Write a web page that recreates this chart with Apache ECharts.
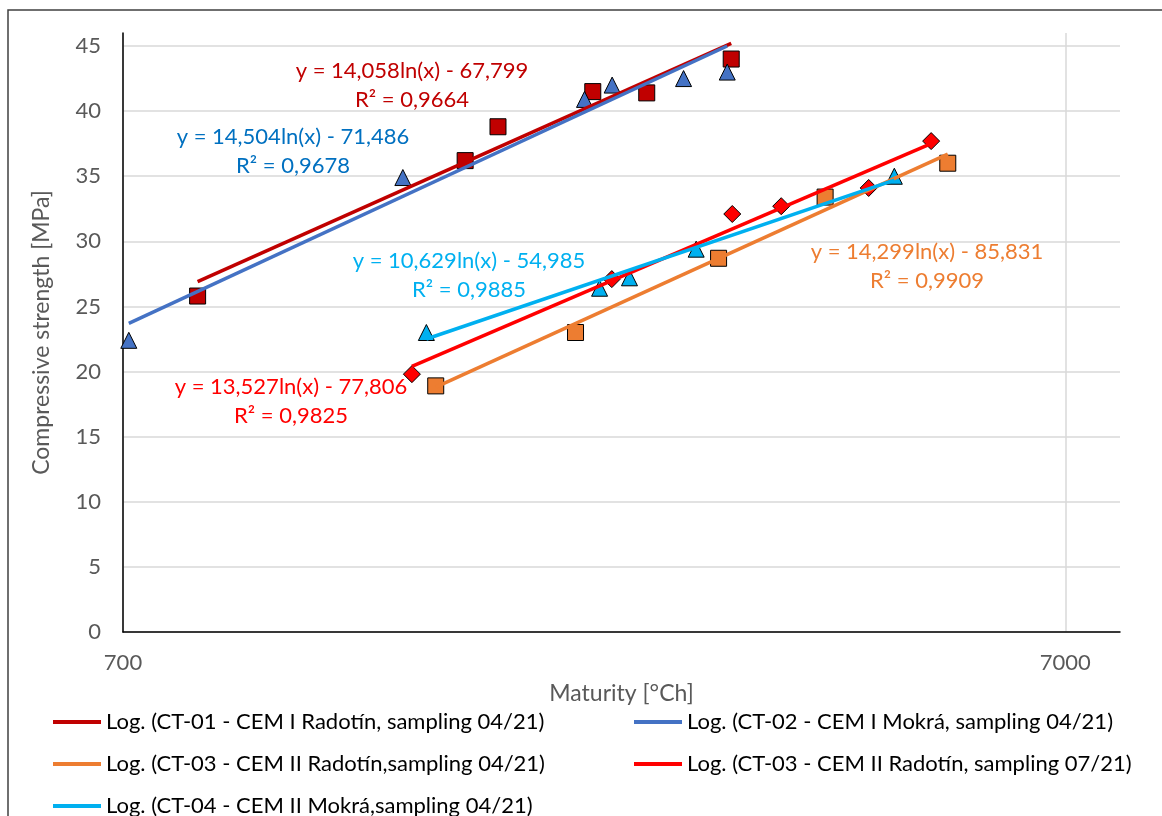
<!DOCTYPE html>
<html>
<head>
<meta charset="utf-8">
<script src="https://cdn.jsdelivr.net/npm/echarts@6/dist/echarts.min.js"></script>
<style>
  html, body { margin: 0; padding: 0; background: #fff; }
  #chart { width: 1162px; height: 816px; }
</style>
</head>
<body>
<div id="chart"></div>
<script>
// measured points (maturity °Ch, strength MPa)
const ct01X = [840, 1615, 1750, 2206, 2517, 3094];
const ct01Y = [25.8, 36.2, 38.8, 41.5, 41.4, 44.0];
const ct02X = [710, 1387, 2162, 2313, 2754, 3064];
const ct02Y = [22.4, 34.9, 40.9, 42.0, 42.5, 43.0];
const ct03aX = [1503, 2115, 3000, 3892, 5252];
const ct03aY = [18.9, 23.0, 28.7, 33.4, 36.0];
const ct03bX = [1418, 2311, 3102, 3496, 4329, 5043];
const ct03bY = [19.8, 27.1, 32.1, 32.7, 34.1, 37.7];
const ct04X = [1469, 2243, 2413, 2840, 4609];
const ct04Y = [23.0, 26.4, 27.2, 29.4, 35.0];

// log trendline end points
const ct01Trend = [[840, 26.9], [3094, 45.2]];
const ct02Trend = [[710, 23.7], [3064, 45.0]];
const ct03aTrend = [[1503, 18.8], [5252, 36.7]];
const ct03bTrend = [[1418, 20.4], [5043, 37.5]];
const ct04Trend = [[1469, 22.5], [4609, 34.7]];

// axis ticks
const xTicks = [700, 7000];
const yTicks = [0, 5, 10, 15, 20, 25, 30, 35, 40, 45];

// trendline names and equations
const trendNames = [
  'Log. (CT-01 - CEM I Radotín, sampling 04/21)',
  'Log. (CT-02 - CEM I Mokrá, sampling 04/21)',
  'Log. (CT-03 - CEM II Radotín,sampling 04/21)',
  'Log. (CT-03 - CEM II Radotín, sampling 07/21)',
  'Log. (CT-04 - CEM II Mokrá,sampling 04/21)'
];
const equations = [
  ['y = 14,058ln(x) - 67,799', 'R² = 0,9664'],
  ['y = 14,504ln(x) - 71,486', 'R² = 0,9678'],
  ['y = 14,299ln(x) - 85,831', 'R² = 0,9909'],
  ['y = 13,527ln(x) - 77,806', 'R² = 0,9825'],
  ['y = 10,629ln(x) - 54,985', 'R² = 0,9885']
];

const FONT = 'Lato, "Open Sans", sans-serif';
const colors = ['#C00000', '#4472C4', '#ED7D31', '#FF0000', '#00B0F0'];
const eqColors = ['#C00000', '#0070C0', '#ED7D31', '#FF0000', '#00B0F0'];
// centre of each equation block (first line), pixels
const eqPos = [[412, 71], [293, 137], [927, 252], [291, 387], [469, 261]];

function pairs(xs, ys) {
  return xs.map((x, i) => [x, ys[i]]);
}

const chart = echarts.init(document.getElementById('chart'));

function scatter(name, xs, ys, color, symbol, size) {
  return {
    name: name,
    type: 'scatter',
    data: pairs(xs, ys),
    symbol: symbol,
    symbolSize: size,
    z: 2,
    itemStyle: { color: color, borderColor: '#000', borderWidth: 1, opacity: 1 }
  };
}
function trend(name, pts, color) {
  return {
    name: name,
    type: 'line',
    data: pts,
    symbol: 'none',
    z: 3,
    color: color,
    lineStyle: { color: color, width: 3.5 }
  };
}

const eqGraphics = [];
equations.forEach((eq, i) => {
  eq.forEach((t, j) => {
    eqGraphics.push({
      type: 'text',
      x: eqPos[i][0],
      y: eqPos[i][1] + j * 29,
      z: 10,
      style: {
        text: t,
        fill: eqColors[i],
        font: '22px ' + FONT,
        align: 'center',
        verticalAlign: 'middle'
      }
    });
  });
});

const legendBase = {
  orient: 'vertical',
  top: 710,
  height: 110,
  padding: 0,
  itemWidth: 48,
  itemHeight: 4,
  itemGap: 18,
  icon: 'rect',
  textStyle: { fontSize: 22, color: '#000', lineHeight: 24, fontFamily: FONT }
};

const option = {
  animation: false,
  backgroundColor: '#fff',
  textStyle: { fontFamily: FONT },
  grid: { left: 123, right: 42, top: 33, bottom: 184 },
  graphic: [
    {
      type: 'rect',
      shape: { x: 8, y: 10, width: 1200, height: 900 },
      style: { fill: 'none', stroke: '#404040', lineWidth: 1.5 },
      z: 0
    }
  ].concat(eqGraphics),
  legend: [
    Object.assign({}, legendBase, {
      data: [trendNames[0], trendNames[2], trendNames[4]],
      left: 53
    }),
    Object.assign({}, legendBase, {
      data: [trendNames[1], trendNames[3]],
      left: 634
    })
  ],
  xAxis: {
    type: 'log',
    logBase: 10,
    min: 700,
    max: 8000,
    name: 'Maturity [°Ch]',
    nameLocation: 'middle',
    nameGap: 50,
    nameTextStyle: { fontSize: 23, color: '#595959', fontFamily: FONT },
    axisLine: { lineStyle: { color: '#000', width: 1.5 } },
    axisTick: { show: false, customValues: xTicks },
    axisLabel: {
      customValues: xTicks,
      fontSize: 22,
      color: '#595959',
      margin: 20,
      formatter: v => String(Math.round(v))
    },
    splitLine: { show: true, lineStyle: { color: '#D9D9D9', width: 1.5 } }
  },
  yAxis: {
    type: 'value',
    min: 0,
    max: 46,
    name: 'Compressive strength [MPa]',
    nameLocation: 'middle',
    nameGap: 70,
    nameRotate: 90,
    nameTextStyle: { fontSize: 23, color: '#595959', fontFamily: FONT },
    axisLine: { show: true, lineStyle: { color: '#000', width: 1.5 } },
    axisTick: { show: false, customValues: yTicks },
    axisLabel: { customValues: yTicks, fontSize: 22, color: '#595959', margin: 22 },
    splitLine: { show: true, lineStyle: { color: '#D9D9D9', width: 1.5 } }
  },
  series: [
    scatter('CT-01 - CEM I Radotín, sampling 04/21', ct01X, ct01Y, colors[0], 'rect', 16),
    scatter('CT-02 - CEM I Mokrá, sampling 04/21', ct02X, ct02Y, colors[1], 'triangle', 16),
    scatter('CT-03 - CEM II Radotín,sampling 04/21', ct03aX, ct03aY, colors[2], 'rect', 16),
    scatter('CT-03 - CEM II Radotín, sampling 07/21', ct03bX, ct03bY, colors[3], 'diamond', 17),
    scatter('CT-04 - CEM II Mokrá,sampling 04/21', ct04X, ct04Y, colors[4], 'triangle', 16),
    trend(trendNames[0], ct01Trend, colors[0]),
    trend(trendNames[1], ct02Trend, colors[1]),
    trend(trendNames[2], ct03aTrend, colors[2]),
    trend(trendNames[3], ct03bTrend, colors[3]),
    trend(trendNames[4], ct04Trend, colors[4])
  ]
};

chart.setOption(option);
</script>
</body>
</html>
